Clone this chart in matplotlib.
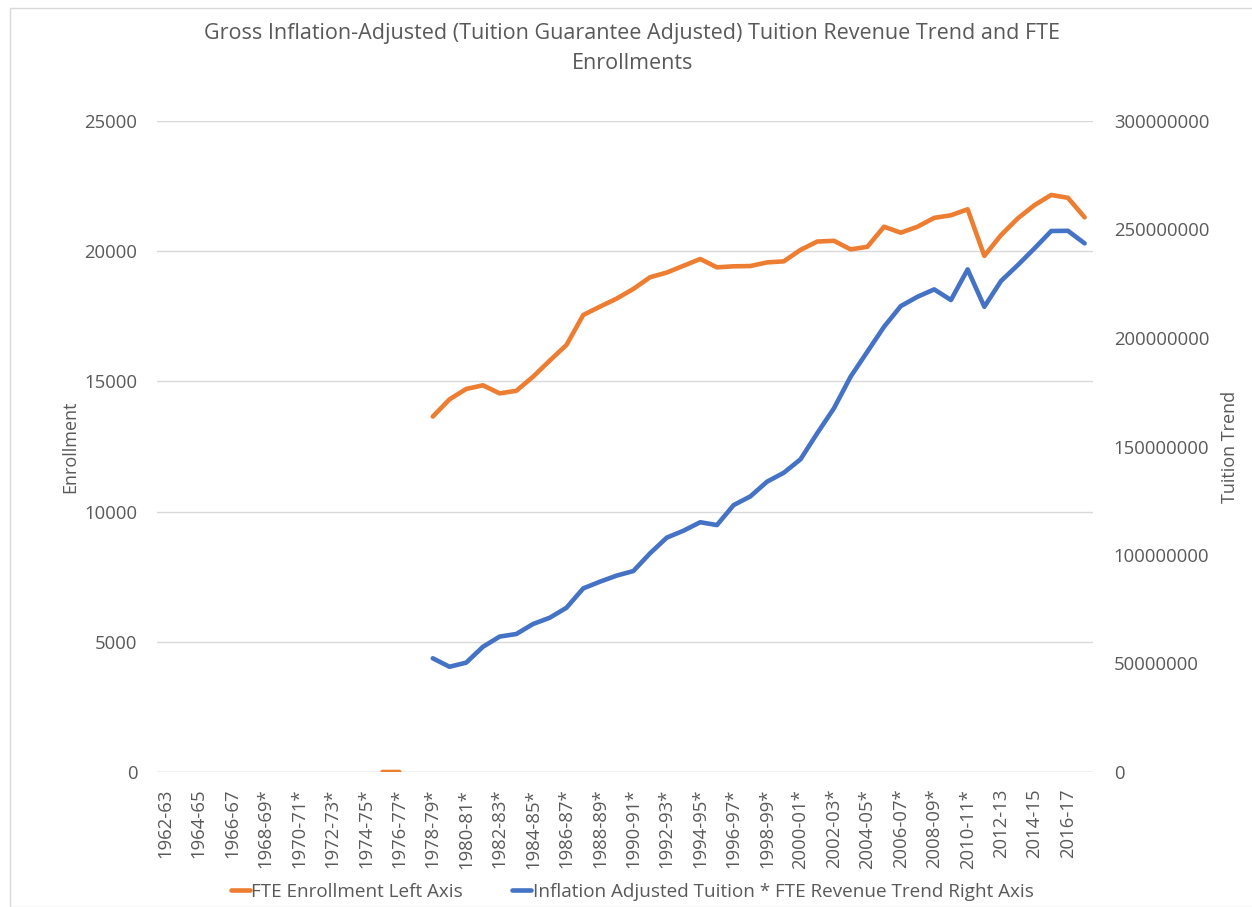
import matplotlib.pyplot as plt
import numpy as np
from matplotlib.ticker import FuncFormatter
from matplotlib.patches import Rectangle

plt.rcParams['font.family'] = ['Open Sans', 'DejaVu Sans']

# school years 1962-63 .. 2017-18, starred years are estimates in the source
years = []
for y in range(1962, 2018):
    lab = "%d-%02d" % (y, (y + 1) % 100)
    if 1968 <= y <= 2010:
        lab += "*"
    years.append(lab)

nan = np.nan
# FTE enrollment (left axis)
enrollment = [nan] * 13 + [0, 0, nan] + [
    13650, 14310, 14710, 14850, 14540, 14640, 15180, 15800, 16400, 17550,
    17870, 18180, 18550, 19000, 19180, 19440, 19700, 19380, 19420, 19430,
    19570, 19610, 20050, 20370, 20400, 20070, 20170, 20940, 20710, 20940,
    21280, 21380, 21610, 19820, 20620, 21260, 21770, 22160, 22050, 21300,
]
# inflation adjusted tuition * FTE revenue trend (right axis)
tuition = [nan] * 16 + [
    52.4e6, 48.5e6, 50.4e6, 57.7e6, 62.4e6, 63.6e6, 68.2e6, 71.1e6, 75.7e6, 84.6e6,
    87.7e6, 90.5e6, 92.6e6, 100.8e6, 108.0e6, 111.2e6, 115.1e6, 113.8e6, 123.0e6, 127.0e6,
    133.8e6, 137.9e6, 144.1e6, 156.1e6, 167.6e6, 182.2e6, 193.7e6, 205.2e6, 214.7e6, 219.0e6,
    222.4e6, 217.5e6, 231.6e6, 214.4e6, 226.3e6, 233.6e6, 241.3e6, 249.3e6, 249.4e6, 243.6e6,
]

orange = "#ED7D31"
blue = "#4472C4"
grey = "#595959"

fig = plt.figure(figsize=(12.52, 9.07), dpi=100)
ax = fig.add_axes([157 / 1252, 1 - 772 / 907, (1093 - 157) / 1252, (772 - 121) / 907])
ax2 = ax.twinx()

x = np.arange(len(years))
l1, = ax.plot(x, enrollment, color=orange, lw=3.3, solid_capstyle='round',
              label="FTE Enrollment Left Axis", zorder=3)
l2, = ax2.plot(x, tuition, color=blue, lw=3.3, solid_capstyle='round',
               label="Inflation Adjusted Tuition * FTE Revenue Trend Right Axis", zorder=3)

ax.set_xlim(-0.5, len(years) - 0.5)
ax.set_ylim(0, 25000)
ax2.set_ylim(0, 300000000)
ax.set_yticks(np.arange(0, 25001, 5000))
ax2.set_yticks(np.arange(0, 300000001, 50000000))
ax2.yaxis.set_major_formatter(FuncFormatter(lambda v, p: "%d" % v))

ax.set_xticks(x[::2])
ax.set_xticklabels(years[::2], rotation=90)

ax.grid(axis='y', color='#d9d9d9', lw=1)
ax.set_axisbelow(True)
for a in (ax, ax2):
    for s in a.spines.values():
        s.set_visible(False)
    a.tick_params(length=0, colors=grey, labelsize=13.3)
ax.tick_params(axis='y', pad=14)
ax2.tick_params(axis='y', pad=15)
ax.tick_params(axis='x', pad=12)
ax.axhline(0, color='#d9d9d9', lw=1, zorder=1)

ax.set_ylabel("Enrollment", color=grey, fontsize=13, labelpad=4)
ax2.set_ylabel("Tuition Trend", color=grey, fontsize=13, labelpad=8)

fig.text(0.505, 0.975, "Gross Inflation-Adjusted (Tuition Guarantee Adjusted) Tuition Revenue Trend and FTE\nEnrollments",
         ha='center', va='top', fontsize=15.5, color=grey, linespacing=1.6)

fig.legend(handles=[l1, l2], loc='lower center', bbox_to_anchor=(0.505, -0.012), ncol=2,
           frameon=False, fontsize=13.6, labelcolor=grey, handlelength=1.0,
           handletextpad=0.1, columnspacing=2.6)

fig.patches.append(Rectangle((10 / 1252, 0), 1, 1 - 8 / 907, transform=fig.transFigure,
                             fill=False, edgecolor='#d9d9d9', lw=1))

fig.savefig("out.png", dpi=100)
